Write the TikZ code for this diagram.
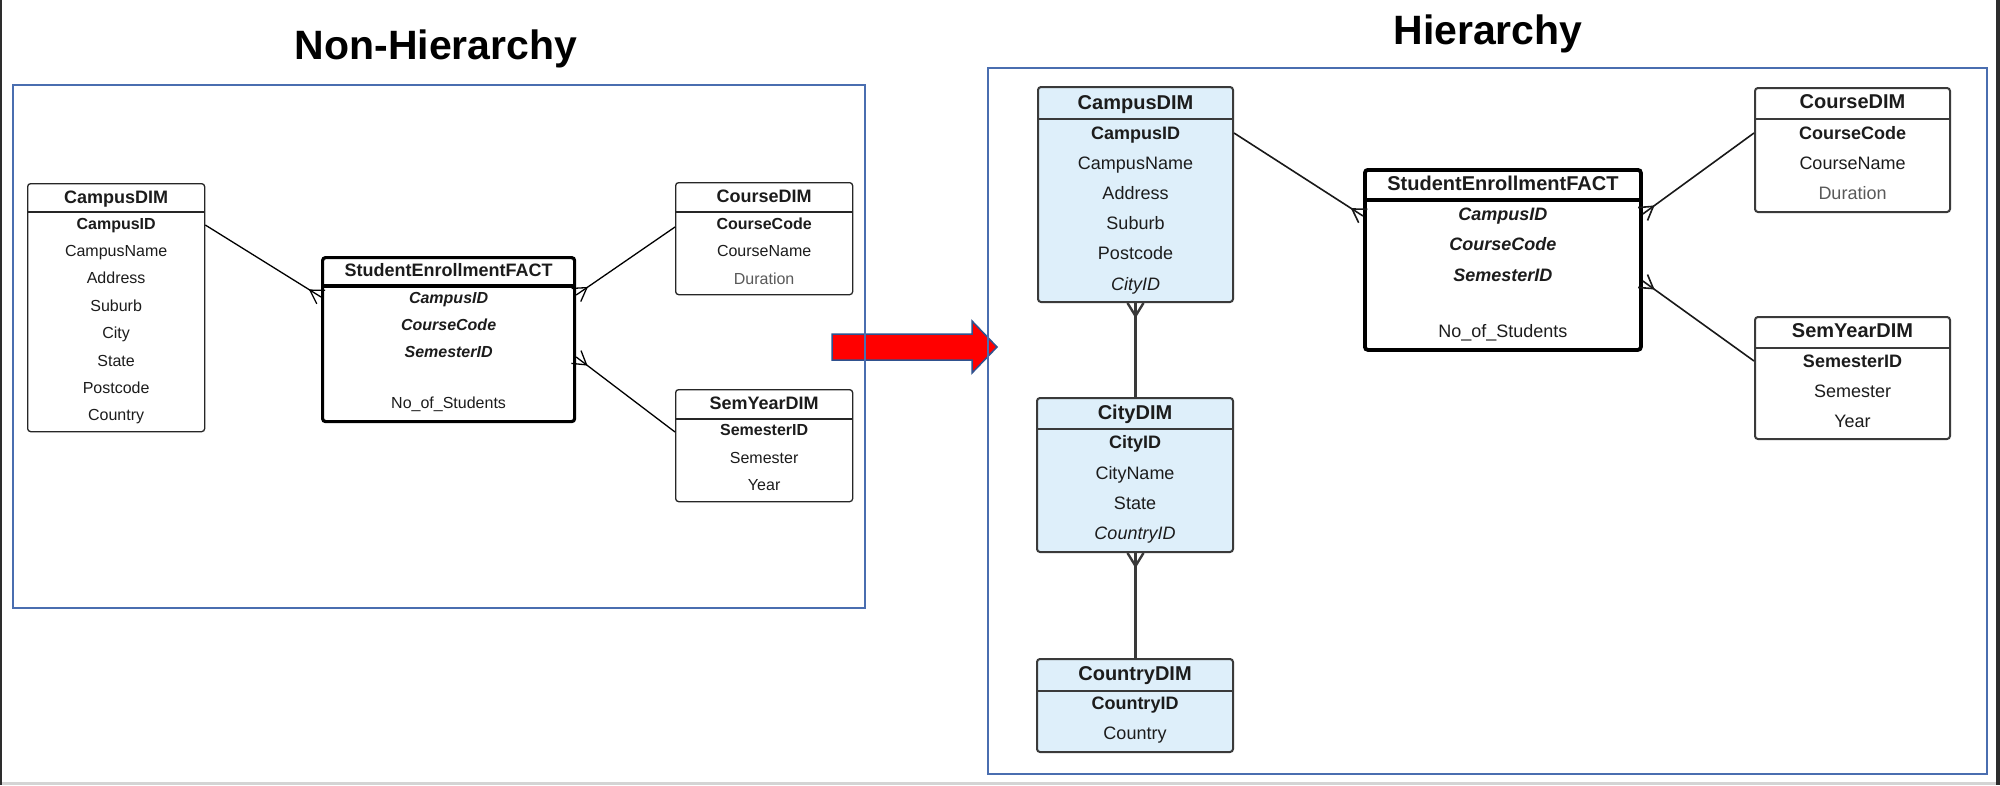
\documentclass[tikz,border=0pt]{standalone}
\usepackage{fontspec}
\setmainfont{Liberation Sans}
\usetikzlibrary{calc}
\definecolor{frameblue}{HTML}{4A6EB0}
\definecolor{boxfill}{HTML}{DEEFFA}
\definecolor{txt}{HTML}{1C1C1C}
\definecolor{txtgrey}{HTML}{595959}
\definecolor{lineR}{HTML}{3A3A3A}
\definecolor{arrowred}{HTML}{FF0000}
\definecolor{arrowedge}{HTML}{2F528F}
\definecolor{pageedge}{HTML}{2D2D2D}
\definecolor{pagebottom}{HTML}{D4D4D4}
\tikzset{
  tblL/.style={draw=black!85, line width=1.3pt, rounded corners=3pt, fill=white, inner sep=0pt, anchor=north west},
  factL/.style={tblL, draw=black, line width=3.2pt},
  tblR/.style={draw=lineR, line width=2pt, rounded corners=3pt, fill=boxfill, inner sep=0pt, anchor=north west},
  tblRw/.style={tblR, fill=white},
  factR/.style={tblR, fill=white, draw=black, line width=3.8pt},
  hdrL/.style={draw=black!85, line width=1.5pt},
  hdrFL/.style={draw=black, line width=3.2pt},
  hdrR/.style={draw=lineR, line width=2.2pt},
  hdrFR/.style={draw=black, line width=3.8pt},
  rowL/.style={font=\fontsize{16}{16}\selectfont, text=txt, inner sep=0pt, text height=11.5pt, text depth=0pt},
  keyL/.style={rowL, font=\fontsize{16}{16}\selectfont\bfseries},
  fkL/.style={rowL, font=\fontsize{16}{16}\selectfont\bfseries\itshape},
  greyL/.style={rowL, text=txtgrey},
  titL/.style={rowL, font=\fontsize{18}{18}\selectfont\bfseries, text height=12.9pt},
  rowR/.style={font=\fontsize{18}{18}\selectfont, text=txt, inner sep=0pt, text height=12.9pt, text depth=0pt},
  keyR/.style={rowR, font=\fontsize{18}{18}\selectfont\bfseries},
  fkR/.style={rowR, font=\fontsize{18}{18}\selectfont\bfseries\itshape},
  itR/.style={rowR, font=\fontsize{18}{18}\selectfont\itshape},
  greyR/.style={rowR, text=txtgrey},
  titR/.style={rowR, font=\fontsize{20}{20}\selectfont\bfseries, text height=14.3pt},
  bigtitle/.style={font=\fontsize{41}{41}\selectfont\bfseries, text=black, inner sep=0pt, anchor=base},
  connL/.style={draw=black, line width=1.3pt},
  connR/.style={draw=black!90, line width=1.6pt},
  connRv/.style={draw=lineR, line width=2.4pt},
  frame/.style={draw=frameblue, line width=2pt},
  bigarrow/.style={fill=arrowred, draw=arrowedge, line width=1.5pt, line join=miter},
}
% table: nodestyle, headerstyle, name, x1, y1, x2, y2, yline
\newcommand\tbl[8]{%
  \node[#1, minimum width={(#6-#4)*1pt}, minimum height={(#7-#5)*1pt}] (#3) at (#4,#5) {};
  \draw[#2] (#3.west |- 0,#8) -- (#3.east |- 0,#8);}
% row: style, name, table, y, text
\newcommand\rw[5]{\node[#1] (#2) at (#3.north |- 0,#4) {#5};}
% crow's foot: style, end at box, other end
\newcommand\crow[3]{\draw[#1] ($(#2)!8pt!90:(#3)$) -- ($(#2)!13pt!(#3)$) -- ($(#2)!8pt!-90:(#3)$);}
\begin{document}
\begin{tikzpicture}[x=1pt, y=-1pt]
\useasboundingbox (0,0) rectangle (2000,785);
\fill[white] (0,0) rectangle (2000,785);
\fill[pageedge] (0,0) rectangle (2,785);
\fill[pageedge] (1996,0) rectangle (2000,785);
\fill[pagebottom] (2,782) rectangle (1996,785);

% big arrow
\draw[bigarrow] (832,334) -- (972,334) -- (972,321) -- (997,347) -- (972,373) -- (972,360) -- (832,360) -- cycle;

% frames
\draw[frame] (13,85) rectangle (865,608);
\draw[frame] (988,68) rectangle (1987,774);

% titles
\node[bigtitle] (tNon) at (436,59) {Non-Hierarchy};
\node[bigtitle] (tHier) at (1488,44) {Hierarchy};

% ---------------- LEFT ----------------
\tbl{tblL}{hdrL}{Lcamp}{27}{183}{204}{431}{212}
\rw{titL}{Lcamp-t}{Lcamp}{197}{CampusDIM}
\rw{keyL}{Lcamp-id}{Lcamp}{224}{CampusID}
\rw{rowL}{Lcamp-n}{Lcamp}{251}{CampusName}
\rw{rowL}{Lcamp-a}{Lcamp}{278}{Address}
\rw{rowL}{Lcamp-s}{Lcamp}{306}{Suburb}
\rw{rowL}{Lcamp-c}{Lcamp}{333}{City}
\rw{rowL}{Lcamp-st}{Lcamp}{361}{State}
\rw{rowL}{Lcamp-p}{Lcamp}{388}{Postcode}
\rw{rowL}{Lcamp-co}{Lcamp}{415}{Country}

\tbl{factL}{hdrFL}{Lfact}{321}{256}{573}{420}{286}
\rw{titL}{Lfact-t}{Lfact}{270}{StudentEnrollmentFACT}
\rw{fkL}{Lfact-c}{Lfact}{298}{CampusID}
\rw{fkL}{Lfact-cc}{Lfact}{325}{CourseCode}
\rw{fkL}{Lfact-s}{Lfact}{352}{SemesterID}
\rw{rowL}{Lfact-n}{Lfact}{403}{No\_of\_Students}

\tbl{tblL}{hdrL}{Lcour}{675}{182}{852}{294}{212}
\rw{titL}{Lcour-t}{Lcour}{196}{CourseDIM}
\rw{keyL}{Lcour-id}{Lcour}{224}{CourseCode}
\rw{rowL}{Lcour-n}{Lcour}{251}{CourseName}
\rw{greyL}{Lcour-d}{Lcour}{279}{Duration}

\tbl{tblL}{hdrL}{Lsem}{675}{389}{852}{501}{419}
\rw{titL}{Lsem-t}{Lsem}{403}{SemYearDIM}
\rw{keyL}{Lsem-id}{Lsem}{430}{SemesterID}
\rw{rowL}{Lsem-s}{Lsem}{458}{Semester}
\rw{rowL}{Lsem-y}{Lsem}{485}{Year}

\coordinate (l1a) at ($(Lcamp-id -| Lcamp.east)+(0,1)$);
\coordinate (l1b) at ($(Lfact-c -| Lfact.west)+(0,-1)$);
\draw[connL] (l1a) -- (l1b);
\crow{connL}{l1b}{l1a}
\coordinate (l2a) at ($(Lfact-c -| Lfact.east)+(0,-3)$);
\coordinate (l2b) at ($(Lcour-id -| Lcour.west)+(0,3)$);
\draw[connL] (l2a) -- (l2b);
\crow{connL}{l2a}{l2b}
\coordinate (l3a) at ($(Lfact-s -| Lfact.east)+(0,5)$);
\coordinate (l3b) at ($(Lsem-id -| Lsem.west)+(0,2)$);
\draw[connL] (l3a) -- (l3b);
\crow{connL}{l3a}{l3b}

% ---------------- RIGHT ----------------
\tbl{tblR}{hdrR}{Rcamp}{1037}{86}{1232}{301}{119}
\rw{titR}{Rcamp-t}{Rcamp}{102}{CampusDIM}
\rw{keyR}{Rcamp-id}{Rcamp}{133}{CampusID}
\rw{rowR}{Rcamp-n}{Rcamp}{163}{CampusName}
\rw{rowR}{Rcamp-a}{Rcamp}{193}{Address}
\rw{rowR}{Rcamp-s}{Rcamp}{223}{Suburb}
\rw{rowR}{Rcamp-p}{Rcamp}{253}{Postcode}
\rw{itR}{Rcamp-ci}{Rcamp}{284}{CityID}

\tbl{factR}{hdrFR}{Rfact}{1363}{168}{1639}{348}{200}
\rw{titR}{Rfact-t}{Rfact}{183}{StudentEnrollmentFACT}
\rw{fkR}{Rfact-c}{Rfact}{214}{CampusID}
\rw{fkR}{Rfact-cc}{Rfact}{244}{CourseCode}
\rw{fkR}{Rfact-s}{Rfact}{275}{SemesterID}
\rw{rowR}{Rfact-n}{Rfact}{331}{No\_of\_Students}

\tbl{tblRw}{hdrR}{Rcour}{1754}{87}{1949}{211}{119}
\rw{titR}{Rcour-t}{Rcour}{101}{CourseDIM}
\rw{keyR}{Rcour-id}{Rcour}{133}{CourseCode}
\rw{rowR}{Rcour-n}{Rcour}{163}{CourseName}
\rw{greyR}{Rcour-d}{Rcour}{193}{Duration}

\tbl{tblRw}{hdrR}{Rsem}{1754}{316}{1949}{438}{348}
\rw{titR}{Rsem-t}{Rsem}{330}{SemYearDIM}
\rw{keyR}{Rsem-id}{Rsem}{361}{SemesterID}
\rw{rowR}{Rsem-s}{Rsem}{391}{Semester}
\rw{rowR}{Rsem-y}{Rsem}{421}{Year}

\tbl{tblR}{hdrR}{Rcity}{1036}{397}{1232}{551}{429}
\rw{titR}{Rcity-t}{Rcity}{412}{CityDIM}
\rw{keyR}{Rcity-id}{Rcity}{442}{CityID}
\rw{rowR}{Rcity-n}{Rcity}{473}{CityName}
\rw{rowR}{Rcity-s}{Rcity}{503}{State}
\rw{itR}{Rcity-co}{Rcity}{533}{CountryID}

\tbl{tblR}{hdrR}{Rcoun}{1036}{658}{1232}{751}{691}
\rw{titR}{Rcoun-t}{Rcoun}{673}{CountryDIM}
\rw{keyR}{Rcoun-id}{Rcoun}{703}{CountryID}
\rw{rowR}{Rcoun-c}{Rcoun}{733}{Country}

\coordinate (r1a) at (Rcamp-id -| Rcamp.east);
\coordinate (r1b) at ($(Rfact-c -| Rfact.west)+(0,2)$);
\draw[connR] (r1a) -- (r1b);
\crow{connR}{r1b}{r1a}
\coordinate (r2a) at (Rfact-c -| Rfact.east);
\coordinate (r2b) at (Rcour-id -| Rcour.west);
\draw[connR] (r2a) -- (r2b);
\crow{connR}{r2a}{r2b}
\coordinate (r3a) at ($(Rfact-s -| Rfact.east)+(0,6)$);
\coordinate (r3b) at (Rsem-id -| Rsem.west);
\draw[connR] (r3a) -- (r3b);
\crow{connR}{r3a}{r3b}
\coordinate (r4a) at (Rcamp.south);
\coordinate (r4b) at (Rcity.north -| Rcamp.south);
\draw[connRv] (r4a) -- (r4b);
\crow{connRv}{r4a}{r4b}
\coordinate (r5a) at (Rcity.south -| Rcamp.south);
\coordinate (r5b) at (Rcoun.north -| Rcamp.south);
\draw[connRv] (r5a) -- (r5b);
\crow{connRv}{r5a}{r5b}
\end{tikzpicture}
\end{document}
